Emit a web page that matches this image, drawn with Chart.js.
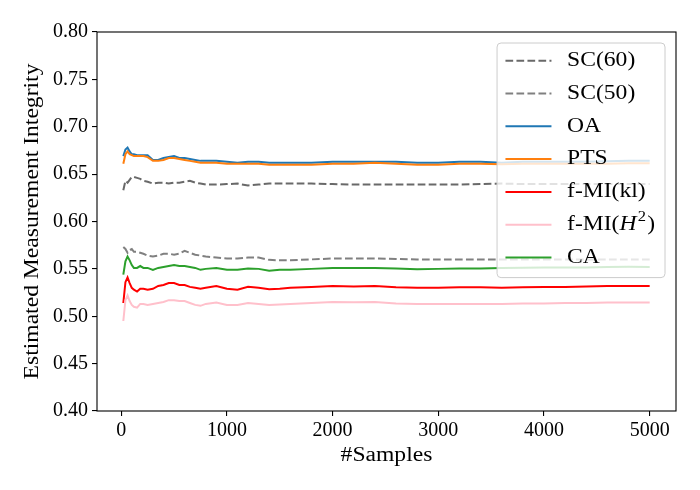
<!DOCTYPE html>
<html>
<head>
<meta charset="utf-8">
<script src="https://cdn.jsdelivr.net/npm/chart.js@4"></script>
<style>
  body { margin: 0; background: #fff; }
  #wrap { width: 700px; height: 490px; }
</style>
</head>
<body>
<div id="wrap"><canvas id="grafico"></canvas></div>
<script>
// valores
const samples = [20, 40, 60, 80, 100, 120, 150, 180, 210, 250, 300, 350, 400, 450, 500, 550, 600, 650, 700, 750, 800, 900, 1000, 1100, 1200, 1300, 1400, 1500, 1600, 1800, 2000, 2200, 2400, 2600, 2800, 3000, 3200, 3400, 3600, 3800, 4000, 4200, 4400, 4600, 4800, 5000];

const sc60 = [0.633, 0.643, 0.641, 0.644, 0.647, 0.647, 0.646, 0.645, 0.643, 0.642, 0.640, 0.641, 0.641, 0.640, 0.641, 0.641, 0.642, 0.643, 0.641, 0.640, 0.639, 0.639, 0.6395, 0.640, 0.638, 0.639, 0.640, 0.640, 0.640, 0.640, 0.6395, 0.639, 0.639, 0.639, 0.639, 0.639, 0.639, 0.6395, 0.640, 0.6395, 0.6395, 0.6395, 0.6395, 0.6395, 0.6395, 0.6395];
const sc50 = [0.573, 0.571, 0.567, 0.570, 0.571, 0.568, 0.568, 0.567, 0.566, 0.564, 0.563, 0.564, 0.566, 0.566, 0.565, 0.566, 0.569, 0.567, 0.565, 0.564, 0.563, 0.562, 0.561, 0.561, 0.562, 0.562, 0.5595, 0.559, 0.559, 0.560, 0.561, 0.561, 0.561, 0.5605, 0.560, 0.560, 0.560, 0.560, 0.560, 0.560, 0.560, 0.560, 0.560, 0.560, 0.560, 0.560];
const oa = [0.669, 0.676, 0.678, 0.674, 0.671, 0.671, 0.670, 0.670, 0.670, 0.670, 0.665, 0.665, 0.667, 0.668, 0.669, 0.667, 0.667, 0.666, 0.665, 0.664, 0.664, 0.664, 0.663, 0.662, 0.663, 0.663, 0.662, 0.662, 0.662, 0.662, 0.663, 0.663, 0.663, 0.663, 0.662, 0.662, 0.663, 0.663, 0.662, 0.663, 0.663, 0.663, 0.663, 0.6635, 0.664, 0.664];
const pts = [0.661, 0.671, 0.674, 0.671, 0.670, 0.669, 0.669, 0.669, 0.669, 0.668, 0.664, 0.664, 0.665, 0.667, 0.667, 0.666, 0.665, 0.664, 0.663, 0.662, 0.662, 0.662, 0.661, 0.661, 0.661, 0.661, 0.660, 0.660, 0.660, 0.660, 0.661, 0.661, 0.662, 0.661, 0.660, 0.660, 0.661, 0.661, 0.6605, 0.661, 0.661, 0.661, 0.661, 0.661, 0.6615, 0.6615];
const fmiKl = [0.514, 0.536, 0.541, 0.535, 0.530, 0.528, 0.526, 0.529, 0.529, 0.528, 0.529, 0.532, 0.533, 0.535, 0.535, 0.533, 0.533, 0.531, 0.530, 0.529, 0.530, 0.532, 0.529, 0.528, 0.531, 0.530, 0.5285, 0.529, 0.530, 0.531, 0.532, 0.5315, 0.532, 0.5305, 0.530, 0.530, 0.5305, 0.5305, 0.530, 0.5305, 0.531, 0.531, 0.5315, 0.532, 0.532, 0.532];
const fmiH2 = [0.495, 0.517, 0.522, 0.516, 0.512, 0.510, 0.509, 0.513, 0.513, 0.512, 0.513, 0.514, 0.515, 0.517, 0.517, 0.516, 0.516, 0.514, 0.512, 0.511, 0.513, 0.5145, 0.512, 0.512, 0.514, 0.513, 0.512, 0.5125, 0.513, 0.514, 0.515, 0.5148, 0.515, 0.5135, 0.5128, 0.513, 0.513, 0.513, 0.513, 0.5135, 0.5135, 0.514, 0.514, 0.5145, 0.5145, 0.5145];
const ca = [0.544, 0.558, 0.563, 0.559, 0.554, 0.551, 0.551, 0.553, 0.551, 0.551, 0.549, 0.551, 0.552, 0.553, 0.554, 0.553, 0.553, 0.552, 0.551, 0.549, 0.550, 0.551, 0.549, 0.549, 0.5505, 0.550, 0.548, 0.549, 0.549, 0.550, 0.551, 0.551, 0.551, 0.5505, 0.5497, 0.550, 0.5505, 0.5505, 0.551, 0.5512, 0.5515, 0.5515, 0.5515, 0.552, 0.5522, 0.552];

const xTicks = [0, 1000, 2000, 3000, 4000, 5000];
const yTicks = [0.40, 0.45, 0.50, 0.55, 0.60, 0.65, 0.70, 0.75, 0.80];

const tituloX = '#Samples';
const tituloY = 'Estimated Measurement Integrity';

const fuente = "'Liberation Serif', 'DejaVu Serif', serif";
// la fuente original (Computer Modern) es algo mas ancha
const estirar = 1.18;

const series = [
  { label: 'SC(60)', data: sc60, color: '#696969', dash: [7.7, 3.3] },
  { label: 'SC(50)', data: sc50, color: '#808080', dash: [7.7, 3.3] },
  { label: 'OA', data: oa, color: '#1f77b4', dash: [] },
  { label: 'PTS', data: pts, color: '#ff7f0e', dash: [] },
  { label: 'f-MI(kl)', data: fmiKl, color: '#ff0000', dash: [] },
  { label: 'f-MI($H^2$)', data: fmiH2, color: '#ffc0cb', dash: [] },
  { label: 'CA', data: ca, color: '#2ca02c', dash: [] }
];

const datasets = series.map((s, i) => ({
  label: s.label,
  data: samples.map((x, j) => ({ x: x, y: s.data[j] })),
  borderColor: s.color,
  backgroundColor: s.color,
  borderDash: s.dash,
  borderWidth: 2,
  pointRadius: 0,
  tension: 0,
  fill: false,
  order: series.length - i
}));

// recorre la etiqueta; $H^2$ va en cursiva con superindice
function recorrerEtiqueta(ctx, texto, size, dibujar) {
  let x = 0;
  texto.split(/(\$[^$]+\$)/).forEach(p => {
    if (!p) return;
    const m = p.match(/^\$(.+)\^(.+)\$$/);
    if (m) {
      ctx.font = `italic ${size}px ${fuente}`;
      if (dibujar) ctx.fillText(m[1], x, 0);
      x += ctx.measureText(m[1]).width + 1;
      ctx.font = `${size * 0.7}px ${fuente}`;
      if (dibujar) ctx.fillText(m[2], x, -size * 0.35);
      x += ctx.measureText(m[2]).width + 1;
    } else {
      ctx.font = `${size}px ${fuente}`;
      if (dibujar) ctx.fillText(p, x, 0);
      x += ctx.measureText(p).width;
    }
  });
  return x;
}

const marcoYLeyenda = {
  id: 'marcoYLeyenda',
  afterDraw(chart) {
    const ctx = chart.ctx;
    const a = chart.chartArea;
    ctx.save();
    // marco completo
    ctx.strokeStyle = '#000';
    ctx.lineWidth = 1.1;
    ctx.strokeRect(a.left, a.top, a.right - a.left, a.bottom - a.top);

    // titulos de los ejes
    ctx.fillStyle = '#000';
    ctx.textAlign = 'center';
    ctx.textBaseline = 'middle';
    ctx.font = `20px ${fuente}`;
    ctx.save();
    ctx.translate((a.left + a.right) / 2, a.bottom + 45);
    ctx.scale(estirar, 1);
    ctx.fillText(tituloX, 0, 0);
    ctx.restore();
    ctx.save();
    ctx.translate(33, (a.top + a.bottom) / 2);
    ctx.rotate(-Math.PI / 2);
    ctx.scale(estirar, 1);
    ctx.fillText(tituloY, 0, 0);
    ctx.restore();

    // leyenda
    const size = 20;
    const fila = 32.8;
    const dsets = chart.data.datasets;
    ctx.textAlign = 'left';
    let maxW = 0;
    dsets.forEach(d => { maxW = Math.max(maxW, recorrerEtiqueta(ctx, d.label, size, false) * estirar); });
    const w = 70 + maxW + 10;
    const h = dsets.length * fila + 5;
    const x0 = a.right - 11 - w;
    const y0 = a.top + 11;
    ctx.beginPath();
    ctx.roundRect(x0, y0, w, h, 4);
    ctx.fillStyle = 'rgba(255,255,255,0.8)';
    ctx.fill();
    ctx.strokeStyle = '#cccccc';
    ctx.lineWidth = 1;
    ctx.stroke();

    dsets.forEach((d, i) => {
      const yc = y0 + 17.7 + i * fila;
      ctx.beginPath();
      ctx.setLineDash(d.borderDash || []);
      ctx.strokeStyle = d.borderColor;
      ctx.lineWidth = 2;
      ctx.moveTo(x0 + 8.4, yc);
      ctx.lineTo(x0 + 54.4, yc);
      ctx.stroke();
      ctx.setLineDash([]);
      ctx.fillStyle = '#000';
      ctx.save();
      ctx.translate(x0 + 70, yc);
      ctx.scale(estirar, 1);
      recorrerEtiqueta(ctx, d.label, size, true);
      ctx.restore();
    });
    ctx.restore();
  }
};

new Chart(document.getElementById('grafico'), {
  type: 'line',
  data: { datasets },
  plugins: [marcoYLeyenda],
  options: {
    responsive: true,
    maintainAspectRatio: false,
    animation: false,
    layout: { padding: { left: 0, right: 24, top: 32, bottom: 0 } },
    plugins: { legend: { display: false }, tooltip: { enabled: false } },
    scales: {
      x: {
        type: 'linear',
        min: -229,
        max: 5249,
        afterFit: s => { s.height = 79; },
        afterBuildTicks: s => { s.ticks = xTicks.map(v => ({ value: v })); },
        grid: { drawOnChartArea: false, drawTicks: true, tickLength: 5, color: '#000', lineWidth: 1.1 },
        border: { display: false },
        ticks: { color: '#000', padding: 3, maxRotation: 0, font: { family: fuente, size: 20 }, callback: v => String(v) }
      },
      y: {
        type: 'linear',
        min: 0.40,
        max: 0.80,
        afterFit: s => { s.width = 97; },
        afterBuildTicks: s => { s.ticks = yTicks.map(v => ({ value: v })); },
        grid: { drawOnChartArea: false, drawTicks: true, tickLength: 5, color: '#000', lineWidth: 1.1 },
        border: { display: false },
        ticks: { color: '#000', padding: 4, font: { family: fuente, size: 20 }, callback: v => v.toFixed(2) }
      }
    }
  }
});
</script>
</body>
</html>
